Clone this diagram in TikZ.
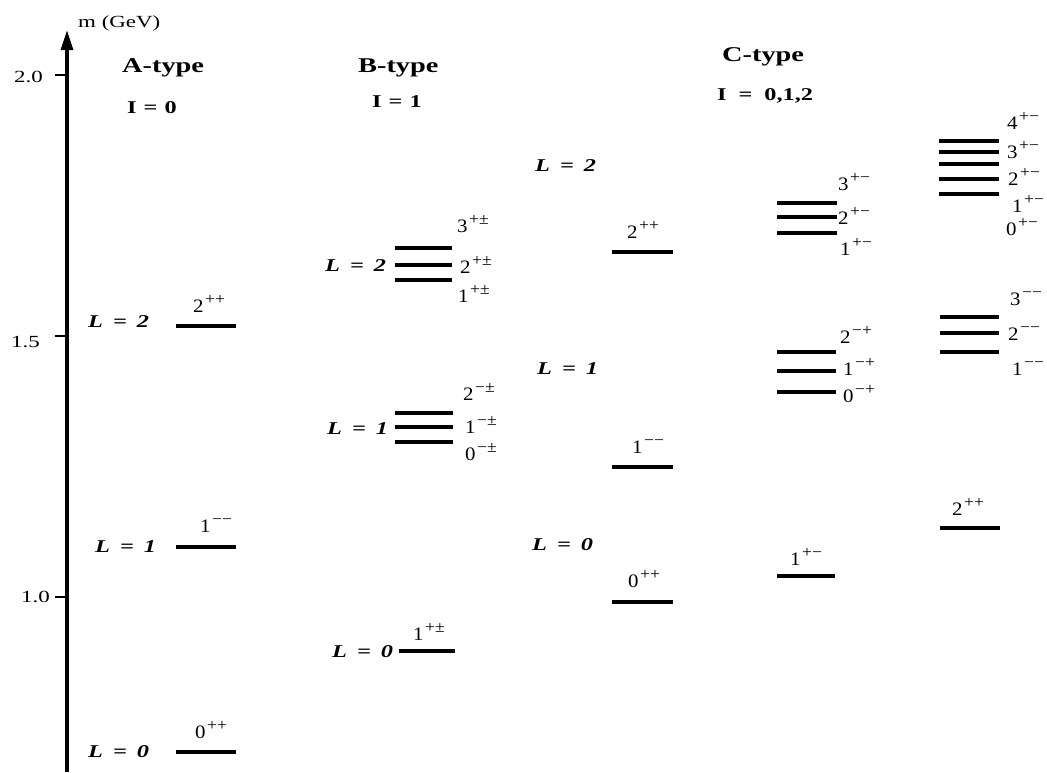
\documentclass[tikz,border=0pt]{standalone}
\usepackage{fontspec}
\setmainfont{Liberation Serif}[FakeStretch=1.35]
\newfontfamily\labfont{Liberation Serif}[FakeStretch=1.1]
\usetikzlibrary{arrows.meta}
\newcommand\jp[2]{#1\hspace{1.5pt}\raisebox{0.42em}{\fontsize{16}{16}\selectfont#2}}
\newcommand\Lq[1]{L\hspace{10pt}=\hspace{10pt}#1}
\begin{document}
\begin{tikzpicture}[x=1pt,y=-1pt,
  lvl/.style={line width=3.6pt},
  jlab/.style={anchor=base west, inner sep=0pt, font=\labfont\fontsize{19}{19}\selectfont},
  Llab/.style={anchor=base west, inner sep=0pt, font=\fontsize{18}{18}\selectfont\bfseries\itshape},
  ttl/.style={anchor=base west, inner sep=0pt, font=\fontsize{21}{21}\selectfont\bfseries},
  iso/.style={anchor=base west, inner sep=0pt, font=\fontsize{18}{18}\selectfont\bfseries},
  ticklab/.style={anchor=base east, inner sep=0pt, font=\fontsize{17}{17}\selectfont}]
\useasboundingbox (0,0) rectangle (1047,772);

% axis
\coordinate (axb) at (67,772);
\coordinate (axt) at (67,30);
\draw[line width=3.2pt, -{Triangle[length=20pt,width=12pt]}] (axb) -- (axt);
\node[anchor=base west, inner sep=0pt, font=\fontsize{17}{17}\selectfont] (unit) at (78,27) {m (GeV)};
\foreach \y [count=\i] in {75, 336, 597}{
  \draw[line width=2pt] (55,\y) coordinate (t\i) -- (67,\y);
}
\node[ticklab] (tl1) at (43,82) {2.0};
\node[ticklab] (tl2) at (40,347) {1.5};
\node[ticklab] (tl3) at (50,602) {1.0};

% titles
\node[ttl] (At) at (122,72) {A-type};
\node[iso] (Ai) at (127,113) {I\hspace{7pt}=\hspace{7pt}0};
\node[ttl] (Bt) at (358,72) {B-type};
\node[iso] (Bi) at (372,107) {I\hspace{7pt}=\hspace{7pt}1};
\node[ttl] (Ct) at (722,61) {C-type};
\node[iso] (Ci) at (717,100) {I\hspace{12pt}=\hspace{12pt}0,1,2};

% A-type
\node[Llab] (AL2) at (88,327) {\Lq{2}};
\node[Llab] (AL1) at (95,552) {\Lq{1}};
\node[Llab] (AL0) at (88,757) {\Lq{0}};
\draw[lvl] (176,326) -- (236,326);
\draw[lvl] (176,547) -- (236,547);
\draw[lvl] (176,752) -- (236,752);
\node[jlab] (a2) at (193,312) {\jp{2}{++}};
\node[jlab] (a1) at (200,532) {\jp{1}{−−}};
\node[jlab] (a0) at (195,738) {\jp{0}{++}};

% B-type
\node[Llab] (BL2) at (325,271) {\Lq{2}};
\node[Llab] (BL1) at (327,434) {\Lq{1}};
\node[Llab] (BL0) at (332,657) {\Lq{0}};
\draw[lvl] (395,248) -- (452,248);
\draw[lvl] (395,265) -- (452,265);
\draw[lvl] (395,280) -- (452,280);
\draw[lvl] (395,413) -- (453,413);
\draw[lvl] (395,427) -- (453,427);
\draw[lvl] (395,442) -- (453,442);
\draw[lvl] (399,651) -- (455,651);
\node[jlab] (b23) at (457,232) {\jp{3}{+±}};
\node[jlab] (b22) at (460,273) {\jp{2}{+±}};
\node[jlab] (b21) at (458,302) {\jp{1}{+±}};
\node[jlab] (b12) at (463,400) {\jp{2}{−±}};
\node[jlab] (b11) at (465,433) {\jp{1}{−±}};
\node[jlab] (b10) at (465,460) {\jp{0}{−±}};
\node[jlab] (b01) at (413,640) {\jp{1}{+±}};

% C-type, column 1
\node[Llab] (CL2) at (535,171) {\Lq{2}};
\node[Llab] (CL1) at (537,374) {\Lq{1}};
\node[Llab] (CL0) at (532,550) {\Lq{0}};
\draw[lvl] (612,252) -- (673,252);
\draw[lvl] (612,467) -- (673,467);
\draw[lvl] (612,602) -- (673,602);
\node[jlab] (c12) at (627,238) {\jp{2}{++}};
\node[jlab] (c11) at (632,453) {\jp{1}{−−}};
\node[jlab] (c10) at (628,587) {\jp{0}{++}};

% C-type, column 2
\draw[lvl] (777,203) -- (837,203);
\draw[lvl] (777,217) -- (837,217);
\draw[lvl] (777,233) -- (837,233);
\draw[lvl] (777,352) -- (836,352);
\draw[lvl] (777,371) -- (836,371);
\draw[lvl] (777,392) -- (836,392);
\draw[lvl] (777,576) -- (835,576);
\node[jlab] (c23) at (838,190) {\jp{3}{+−}};
\node[jlab] (c22) at (838,224) {\jp{2}{+−}};
\node[jlab] (c21) at (840,255) {\jp{1}{+−}};
\node[jlab] (c2b) at (840,343) {\jp{2}{−+}};
\node[jlab] (c2a) at (843,375) {\jp{1}{−+}};
\node[jlab] (c20) at (843,402) {\jp{0}{−+}};
\node[jlab] (c2s) at (790,565) {\jp{1}{+−}};

% C-type, column 3
\draw[lvl] (939,141) -- (999,141);
\draw[lvl] (939,152) -- (999,152);
\draw[lvl] (939,164) -- (999,164);
\draw[lvl] (939,179) -- (999,179);
\draw[lvl] (939,194) -- (999,194);
\draw[lvl] (940,317) -- (999,317);
\draw[lvl] (940,333) -- (999,333);
\draw[lvl] (940,352) -- (999,352);
\draw[lvl] (940,528) -- (1000,528);
\node[jlab] (c34) at (1007,129) {\jp{4}{+−}};
\node[jlab] (c33) at (1007,158) {\jp{3}{+−}};
\node[jlab] (c32) at (1008,185) {\jp{2}{+−}};
\node[jlab] (c31) at (1012,212) {\jp{1}{+−}};
\node[jlab] (c30) at (1006,235) {\jp{0}{+−}};
\node[jlab] (c3c) at (1010,305) {\jp{3}{−−}};
\node[jlab] (c3b) at (1008,340) {\jp{2}{−−}};
\node[jlab] (c3a) at (1012,375) {\jp{1}{−−}};
\node[jlab] (c3s) at (952,515) {\jp{2}{++}};
\end{tikzpicture}
\end{document}
